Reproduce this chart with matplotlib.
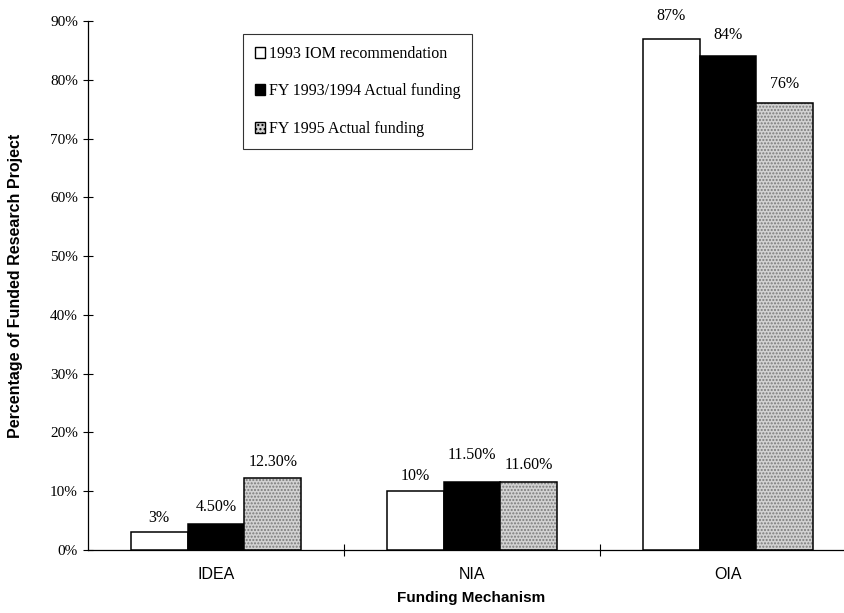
import matplotlib.pyplot as plt
import numpy as np
from matplotlib.patches import Patch

# Mecanismos de financiamento e percentuais por fonte
mecanismos = ['IDEA', 'NIA', 'OIA']
iom_1993 = [3, 10, 87]
fy_1993_1994 = [4.5, 11.5, 84]
fy_1995 = [12.3, 11.6, 76]

rotulos_iom = ['3%', '10%', '87%']
rotulos_9394 = ['4.50%', '11.50%', '84%']
rotulos_95 = ['12.30%', '11.60%', '76%']

serif = 'Liberation Serif'
sans = 'Liberation Sans'

fig = plt.figure(figsize=(8.45, 6.13), dpi=100)
ax = fig.add_axes([88 / 845, 63 / 613, 768 / 845, 529 / 613])

x = np.arange(len(mecanismos))
w = 0.222

ax.bar(x - w, iom_1993, w, color='white', edgecolor='black', linewidth=1.1, zorder=3)
ax.bar(x, fy_1993_1994, w, color='black', edgecolor='black', linewidth=1.1, zorder=3)
# barra pontilhada: preenchimento com hachura e depois só o contorno
ax.bar(x + w, fy_1995, w, color='#d2d2d2', edgecolor='#7a7a7a', hatch='.....',
       linewidth=0, zorder=3)
ax.bar(x + w, fy_1995, w, fill=False, edgecolor='black', linewidth=1.1, zorder=4)

# rótulos de valor acima das barras (deslocamento em pontos)
desloc = {(0, 0): 10, (0, 1): 12, (0, 2): 11,
          (1, 0): 11, (1, 1): 20, (1, 2): 12,
          (2, 0): 16, (2, 1): 15, (2, 2): 14}
for s, (vals, rots) in enumerate([(iom_1993, rotulos_iom),
                                  (fy_1993_1994, rotulos_9394),
                                  (fy_1995, rotulos_95)]):
    for i, (v, r) in enumerate(zip(vals, rots)):
        ax.annotate(r, (x[i] + (s - 1) * w, v), xytext=(0, desloc[(i, s)]),
                    textcoords='offset points', ha='center', va='center',
                    fontsize=11.5, family=serif)

ax.set_xlim(-0.5, 2.5)
ax.set_ylim(0, 90)
ax.set_yticks(range(0, 91, 10))
ax.set_yticklabels([f'{v}%' for v in range(0, 91, 10)], family=serif, fontsize=11)
ax.tick_params(axis='y', direction='inout', length=6.5, width=0.8, pad=4)

ax.set_xticks([0.5, 1.5])
ax.set_xticklabels([])
ax.tick_params(axis='x', which='major', direction='inout', length=8, width=0.8)
ax.set_xticks(x, minor=True)
ax.set_xticklabels(mecanismos, minor=True, family=sans, fontsize=11.5)
ax.tick_params(axis='x', which='minor', length=0, pad=12)

for lado in ['top', 'right']:
    ax.spines[lado].set_visible(False)
ax.spines['left'].set_linewidth(0.9)
ax.spines['bottom'].set_linewidth(0.9)

ax.set_xlabel('Funding Mechanism', family=sans, fontsize=11, fontweight='bold')
ax.xaxis.set_label_coords((471 - 88) / 768, -(591 - 550) / 529)
ax.set_ylabel('Percentage of Funded Research Project', family=sans, fontsize=11.5,
              fontweight='bold')
ax.yaxis.set_label_coords(-(88 - 23) / 768, 0.5)

handles = [Patch(facecolor='white', edgecolor='black', linewidth=1.0),
           Patch(facecolor='black', edgecolor='black', linewidth=1.0),
           Patch(facecolor='#d2d2d2', edgecolor='black', hatch='....', linewidth=1.0)]
nomes = ['1993 IOM recommendation', 'FY 1993/1994 Actual funding', 'FY 1995 Actual funding']
leg = ax.legend(handles, nomes, loc='upper left',
                bbox_to_anchor=((243 - 88) / 768, (550 - 34) / 529),
                prop={'family': serif, 'size': 11.5}, frameon=True, fancybox=False,
                edgecolor='black', handlelength=0.65, handleheight=0.65,
                handletextpad=0.2, labelspacing=1.34, borderpad=0.75,
                borderaxespad=0)
leg.get_frame().set_linewidth(0.8)

plt.savefig('out.png', dpi=100)
